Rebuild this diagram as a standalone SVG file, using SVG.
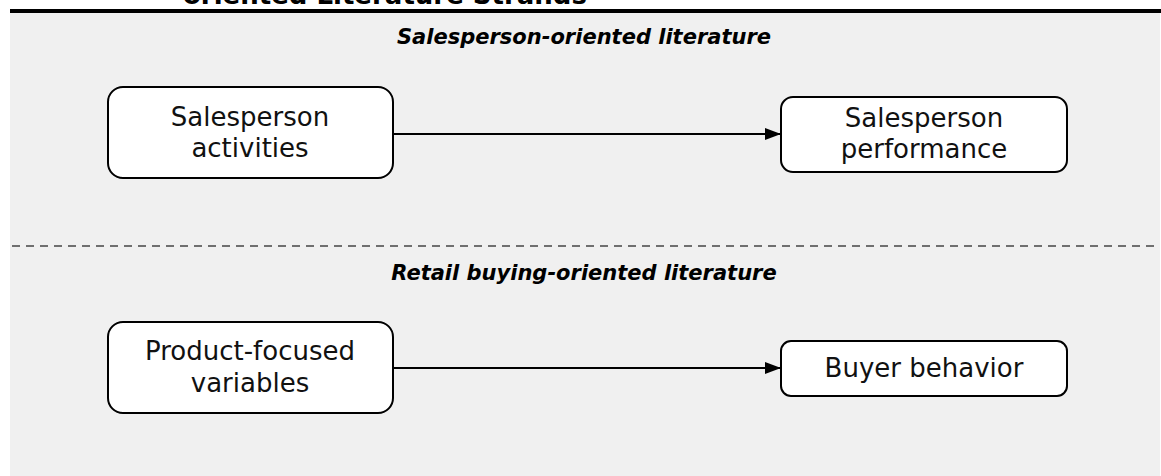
<svg xmlns="http://www.w3.org/2000/svg" width="1161" height="476" viewBox="0 0 1161 476">
<style>
.box{fill:#ffffff;stroke:#000;stroke-width:2}
.t{font-family:"DejaVu Sans",Verdana,sans-serif;font-size:26px;fill:#111;text-anchor:middle}
.h{font-family:"DejaVu Sans",Verdana,sans-serif;font-size:21px;font-weight:bold;font-style:italic;fill:#000;text-anchor:middle}
.title{font-family:"DejaVu Sans",Verdana,sans-serif;font-size:26px;font-weight:bold;fill:#000}
.conn{stroke:#000;stroke-width:2;fill:none}
</style>
<defs>
<marker id="arr" markerWidth="16" markerHeight="12" refX="16" refY="6" orient="auto" markerUnits="userSpaceOnUse">
<path d="M0,0 L16,6 L0,12 Z" fill="#000"/>
</marker>
</defs>
<rect x="0" y="0" width="1161" height="476" fill="#ffffff"/>
<rect x="10" y="13" width="1150" height="463" fill="#f0f0f0"/>
<text class="title" x="183" y="4">oriented Literature Strands</text>
<rect x="10" y="9" width="1151" height="4" fill="#000"/>
<line x1="12" y1="246" x2="1158" y2="246" stroke="#444" stroke-width="1.5" stroke-dasharray="8 6"/>
<text class="h" x="584" y="44">Salesperson-oriented literature</text>
<text class="h" x="584" y="280">Retail buying-oriented literature</text>
<g id="connectors">
<line class="conn" x1="393" y1="134" x2="781" y2="134" marker-end="url(#arr)"/>
<line class="conn" x1="393" y1="368" x2="781" y2="368" marker-end="url(#arr)"/>
</g>
<g id="n1">
<rect class="box" x="108" y="87" width="285" height="91" rx="15"/>
<text class="t" x="250" y="126">Salesperson</text>
<text class="t" x="250" y="157">activities</text>
</g>
<g id="n2">
<rect class="box" x="781" y="97" width="286" height="75" rx="12"/>
<text class="t" x="924" y="127">Salesperson</text>
<text class="t" x="924" y="158">performance</text>
</g>
<g id="n3">
<rect class="box" x="108" y="322" width="285" height="91" rx="15"/>
<text class="t" x="250" y="360">Product-focused</text>
<text class="t" x="250" y="392">variables</text>
</g>
<g id="n4">
<rect class="box" x="781" y="341" width="286" height="55" rx="10"/>
<text class="t" x="924" y="377">Buyer behavior</text>
</g>
</svg>
